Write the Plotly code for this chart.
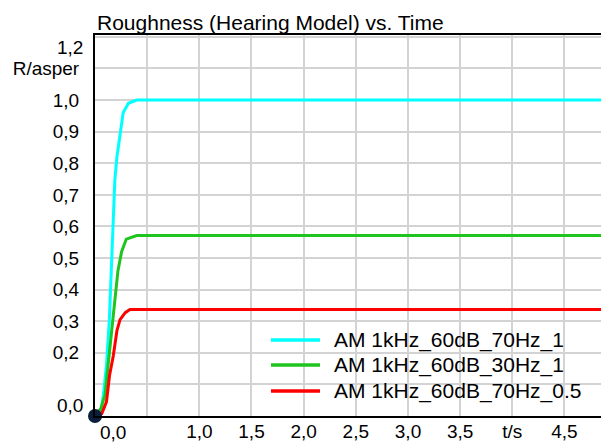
import plotly.graph_objects as go

# Data
t_70hz_1 = [0.0, 0.06, 0.08, 0.11, 0.137, 0.16, 0.175, 0.19, 0.21, 0.24, 0.27, 0.32, 0.40, 4.85]
r_70hz_1 = [0.0, 0.02, 0.066, 0.16, 0.30, 0.51, 0.63, 0.745, 0.82, 0.895, 0.96, 0.99, 1.0, 1.0]

t_30hz_1 = [0.0, 0.055, 0.096, 0.128, 0.16, 0.19, 0.22, 0.255, 0.30, 0.40, 4.85]
r_30hz_1 = [0.0, 0.023, 0.067, 0.17, 0.27, 0.385, 0.46, 0.52, 0.56, 0.571, 0.571]

t_70hz_05 = [0.0, 0.064, 0.11, 0.14, 0.175, 0.21, 0.24, 0.29, 0.335, 4.85]
r_70hz_05 = [0.0, 0.007, 0.045, 0.13, 0.19, 0.27, 0.305, 0.327, 0.337, 0.337]

names = ["AM 1kHz_60dB_70Hz_1", "AM 1kHz_60dB_30Hz_1", "AM 1kHz_60dB_70Hz_0.5"]
colors = ["#00ffff", "#1fc41f", "#ff0000"]

x_tickvals = [0.5, 1.0, 1.5, 2.0, 2.5, 3.0, 3.5, 4.0, 4.5]
x_ticktext = ["", "1,0", "1,5", "2,0", "2,5", "3,0", "3,5", "t/s", "4,5"]
y_tickvals = [0.1, 0.2, 0.3, 0.4, 0.5, 0.6, 0.7, 0.8, 0.9, 1.0, 1.1, 1.2]
y_ticktext = ["", "0,2", "0,3", "0,4", "0,5", "0,6", "0,7", "0,8", "0,9", "1,0", "R/asper", ""]

FONT = "Arial, Liberation Sans, sans-serif"

fig = go.Figure()
for tx, ry, nm, c in zip([t_70hz_1, t_30hz_1, t_70hz_05],
                         [r_70hz_1, r_30hz_1, r_70hz_05], names, colors):
    fig.add_trace(go.Scatter(x=tx, y=ry, mode="lines", name=nm, showlegend=False,
                             line=dict(color=c, width=3)))

# origin dot
fig.add_trace(go.Scatter(x=[0], y=[0], mode="markers", showlegend=False,
                         marker=dict(size=14, color="#0b1e3a"), cliponaxis=False))

fig.update_layout(
    width=601, height=444,
    margin=dict(l=95, r=0, t=35, b=28),
    paper_bgcolor="white", plot_bgcolor="white",
    font=dict(family=FONT, size=18, color="black"),
    title=dict(text="Roughness (Hearing Model) vs. Time", x=0, xref="paper",
               xanchor="left", y=1, yref="container", yanchor="top", pad=dict(t=15, l=2),
               font=dict(size=21, family=FONT, color="black")),
    showlegend=False,
)
fig.update_xaxes(range=[0, 4.85], tickvals=x_tickvals, ticktext=x_ticktext,
                 showgrid=True, gridcolor="#d3d3d3", gridwidth=1.5,
                 showline=True, linecolor="black", linewidth=2, mirror=True,
                 ticks="", ticklabelstandoff=-3, zeroline=False, automargin=False,
                 tickfont=dict(size=19))
fig.update_yaxes(range=[0, 1.206], tickvals=y_tickvals, ticktext=y_ticktext,
                 showgrid=True, gridcolor="#d3d3d3", gridwidth=1.5,
                 showline=True, linecolor="black", linewidth=2,
                 ticks="", ticklabelstandoff=10, zeroline=False, automargin=False,
                 tickfont=dict(size=19))

# shifted labels
fig.add_annotation(x=0, y=0, xref="x", yref="paper", text="0,0", showarrow=False,
                   yanchor="top", xanchor="center", xshift=18, yshift=-4,
                   font=dict(size=19, family=FONT))
fig.add_annotation(x=0, y=0, xref="paper", yref="y", text="0,0", showarrow=False,
                   xanchor="right", yanchor="middle", xshift=-10, yshift=11,
                   font=dict(size=19, family=FONT))
fig.add_annotation(x=0, y=1.2, xref="paper", yref="y", text="1,2", showarrow=False,
                   xanchor="right", yanchor="middle", xshift=-10, yshift=-11,
                   font=dict(size=19, family=FONT))

# legend (drawn box, sample lines and labels)
fig.add_shape(type="rect", xref="paper", yref="paper", x0=0.338, x1=1.0, y0=0.021, y1=0.2336,
              fillcolor="white", line=dict(width=0), layer="between")
row_y = [0.1995, 0.1339, 0.0656]
for nm, c, yy in zip(names, colors, row_y):
    fig.add_shape(type="line", xref="paper", yref="paper", x0=0.3478, x1=0.4447,
                  y0=yy, y1=yy, line=dict(color=c, width=3.5), layer="above")
    fig.add_annotation(x=0.4678, y=yy, xref="paper", yref="paper", text=nm,
                       showarrow=False, xanchor="left", yanchor="middle",
                       font=dict(size=21, family=FONT, color="black"))

fig.write_html("out.html")
